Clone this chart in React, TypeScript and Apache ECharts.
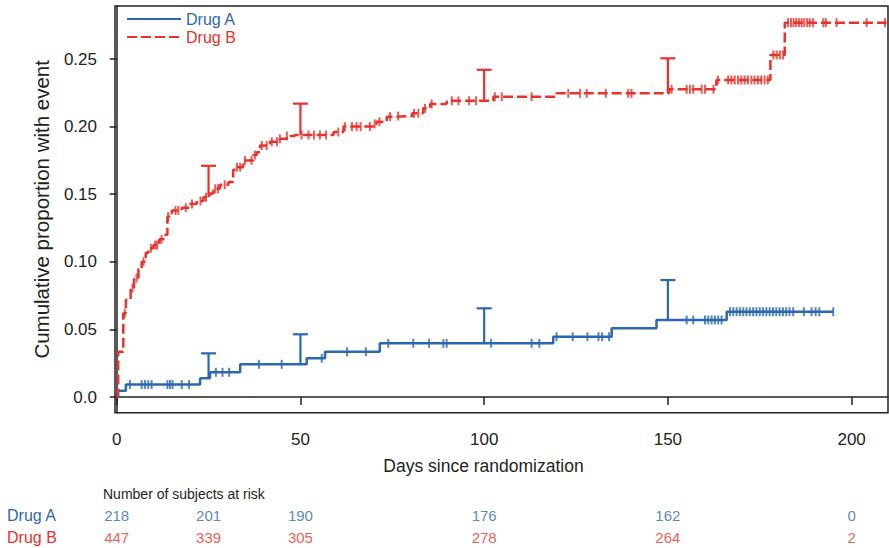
import React, { useEffect, useRef } from "react";
import * as echarts from "echarts";

// ---- Data ----
const BLUE = "#2c67b1";
const RED = "#e8322b";

// Kaplan-Meier cumulative incidence, Drug A (step starts: day, value)
const drugATimes = [0, 0.3, 2.5, 22.7, 25.4, 33.6, 51.7, 56.7, 71.6, 118.8, 134.7, 146.9, 166.0, 195.0];
const drugAValues = [0, 0.0046, 0.0092, 0.0138, 0.0183, 0.0242, 0.0286, 0.0335, 0.0397, 0.0446, 0.0508, 0.057, 0.0631, 0.0631];

// Drug B
const drugBTimes = [0, 0.4, 1.8, 2.5, 3.8, 4.7, 5.9, 6.8, 7.9, 8.6, 10.0, 11.6, 12.7, 13.8, 14.3, 15.0, 17.7, 19.9, 21.8, 23.6, 25.3, 26.3, 28.1, 30.4, 31.7, 32.6, 34.4, 37.2, 38.1, 39.0, 41.7, 44.4, 46.3, 48.5, 59.0, 61.7, 69.8, 70.7, 73.5, 76.2, 80.4, 83.4, 85.3, 89.8, 90.7, 102.5, 119.7, 150.3, 163.2, 177.9, 181.8, 209.5];
const drugBValues = [0, 0.0335, 0.062, 0.072, 0.0806, 0.088, 0.0947, 0.1, 0.1067, 0.11, 0.1124, 0.1166, 0.12, 0.1334, 0.136, 0.138, 0.14, 0.1428, 0.145, 0.1477, 0.1506, 0.154, 0.157, 0.159, 0.168, 0.17, 0.175, 0.179, 0.181, 0.186, 0.1888, 0.191, 0.193, 0.1938, 0.196, 0.2, 0.202, 0.2036, 0.2073, 0.2078, 0.2098, 0.2135, 0.2167, 0.2184, 0.2191, 0.2221, 0.2246, 0.2276, 0.2345, 0.253, 0.2769, 0.2769];

// Censoring times
const drugACensored = [3.6, 6.8, 7.7, 8.6, 9.5, 13.8, 14.5, 15.2, 17.7, 19.7, 27.0, 28.8, 30.6, 38.7, 44.9, 55.8, 62.7, 67.8, 73.9, 80.7, 85.0, 88.9, 89.8, 101.9, 112.9, 115.0, 119.7, 124.1, 128.1, 131.1, 132.1, 134.0, 155.1, 156.9, 160.1, 161.0, 161.9, 162.8, 163.7, 164.6, 166.9, 167.8, 168.7, 169.6, 170.5, 171.4, 172.3, 173.2, 174.1, 175.0, 175.9, 176.8, 177.7, 178.6, 179.5, 180.4, 181.3, 182.2, 183.1, 184.1, 187.0, 189.1, 190.2, 191.2, 195.0];
const drugBCensored = [2.2, 4.3, 5.4, 7.3, 9.3, 10.5, 11.0, 12.2, 14.0, 16.0, 16.8, 18.8, 20.5, 22.8, 24.3, 26.8, 27.6, 29.4, 32.7, 33.6, 34.9, 36.7, 37.6, 39.5, 40.8, 42.2, 43.6, 44.4, 46.3, 50.3, 52.2, 53.7, 55.3, 57.0, 60.3, 62.1, 64.0, 65.3, 66.4, 68.9, 70.2, 71.5, 74.4, 76.6, 80.9, 82.1, 83.9, 85.7, 91.2, 93.0, 95.9, 97.8, 102.9, 104.8, 112.9, 122.9, 126.1, 127.9, 133.1, 139.2, 140.1, 151.0, 155.1, 156.0, 156.9, 159.2, 160.1, 162.4, 163.6, 166.4, 167.3, 168.2, 169.1, 170.0, 170.9, 171.8, 172.7, 173.6, 174.5, 175.4, 176.3, 177.2, 178.7, 179.6, 180.5, 181.3, 182.7, 183.5, 184.2, 184.9, 185.7, 186.4, 187.1, 187.9, 188.6, 189.5, 192.3, 193.0, 195.9, 204.1, 209.1];

// Upper confidence limits at selected days
const ciDays = [25, 50, 100, 150];
const drugAUpper = [0.0323, 0.0464, 0.0656, 0.0865];
const drugBUpper = [0.171, 0.217, 0.242, 0.2505];

// Number at risk
const riskDays = [0, 25, 50, 100, 150, 200];
const riskDrugA = [218, 201, 190, 176, 162, 0];
const riskDrugB = [447, 339, 305, 278, 264, 2];

const xTicks = [0, 50, 100, 150, 200];
const yTicks = [0, 0.05, 0.1, 0.15, 0.2, 0.25];
const yTickLabels = ["0.0", "0.05", "0.10", "0.15", "0.20", "0.25"];

const X_MIN = -0.46;
const X_MAX = 209.9;
const Y_MIN = -0.0116;
const Y_MAX = 0.2892;

const FONT = "'Liberation Sans', Arial, Helvetica, sans-serif";

function valueAt(times: number[], values: number[], t: number): number {
  let v = values[0];
  for (let i = 0; i < times.length; i++) {
    if (times[i] <= t) v = values[i];
    else break;
  }
  return v;
}

function ciRender(color: string) {
  return (params: any, api: any) => {
    const x = api.value(0);
    const lo = api.coord([x, api.value(1)]);
    const hi = api.coord([x, api.value(2)]);
    const half = 7.5;
    return {
      type: "group",
      children: [
        { type: "line", shape: { x1: lo[0], y1: lo[1], x2: hi[0], y2: hi[1] }, style: { stroke: color, lineWidth: 2.2 } },
        { type: "line", shape: { x1: hi[0] - half, y1: hi[1], x2: hi[0] + half, y2: hi[1] }, style: { stroke: color, lineWidth: 2.2 } },
      ],
    };
  };
}

export default function App() {
  const ref = useRef<HTMLDivElement>(null);

  useEffect(() => {
    if (!ref.current) return;
    const chart = echarts.init(ref.current, undefined, { renderer: "svg" });

    const lineA = drugATimes.map((t, i) => [t, drugAValues[i]]);
    const lineB = drugBTimes.map((t, i) => [t, drugBValues[i]]);
    const censA = drugACensored.map((t) => [t, valueAt(drugATimes, drugAValues, t)]);
    const censB = drugBCensored.map((t) => [t, valueAt(drugBTimes, drugBValues, t)]);
    const ciA = ciDays.map((d, i) => [d, valueAt(drugATimes, drugAValues, d), drugAUpper[i]]);
    const ciB = ciDays.map((d, i) => [d, valueAt(drugBTimes, drugBValues, d), drugBUpper[i]]);
    const riskA = riskDays.map((d, i) => [d, "Drug A", riskDrugA[i]]);
    const riskB = riskDays.map((d, i) => [d, "Drug B", riskDrugB[i]]);

    const option: any = {
      animation: false,
      backgroundColor: "#ffffff",
      textStyle: { fontFamily: FONT },
      grid: [
        { left: 115, top: 6, width: 773, height: 406.7, show: true, borderColor: "#222", borderWidth: 1.5, backgroundColor: "transparent" },
        { left: 115, top: 504.5, width: 773, height: 46, show: false },
      ],
      legend: {
        orient: "vertical",
        left: 126,
        top: 10,
        padding: 0,
        itemWidth: 54,
        itemHeight: 14,
        itemGap: 0,
        itemStyle: { opacity: 0 },
        data: [
          { name: "Drug A", textStyle: { color: BLUE } },
          { name: "Drug B", textStyle: { color: RED } },
        ],
        textStyle: { fontSize: 16, lineHeight: 18, fontFamily: FONT },
      },
      xAxis: [
        {
          type: "value",
          gridIndex: 0,
          min: X_MIN,
          max: X_MAX,
          name: "Days since randomization",
          nameLocation: "middle",
          nameGap: 44,
          nameTextStyle: { fontSize: 17.5, color: "#222", padding: [0, 36, 0, 0], fontFamily: FONT },
          axisLine: { show: true, lineStyle: { color: "#222", width: 1.5 } },
          axisTick: { show: true, length: 8, customValues: xTicks, lineStyle: { color: "#222", width: 1.5 } },
          axisLabel: { customValues: xTicks, fontSize: 17, color: "#222", margin: 18, fontFamily: FONT },
          splitLine: { show: false },
        },
        { type: "value", gridIndex: 1, min: X_MIN, max: X_MAX, show: false },
      ],
      yAxis: [
        {
          type: "value",
          gridIndex: 0,
          min: Y_MIN,
          max: Y_MAX,
          name: "Cumulative proportion with event",
          nameLocation: "middle",
          nameGap: 63,
          nameTextStyle: { fontSize: 20.5, color: "#222", fontFamily: FONT },
          axisLine: { show: true, lineStyle: { color: "#222", width: 1.5 } },
          axisTick: { show: true, length: 7, customValues: yTicks, lineStyle: { color: "#222", width: 1.5 } },
          axisLabel: {
            customValues: yTicks,
            fontSize: 17,
            color: "#222",
            margin: 18,
            fontFamily: FONT,
            formatter: (v: number) => {
              const idx = yTicks.findIndex((t) => Math.abs(t - v) < 1e-9);
              return idx >= 0 ? yTickLabels[idx] : "";
            },
          },
          splitLine: { show: false },
        },
        {
          type: "category",
          gridIndex: 1,
          data: ["Drug A", "Drug B"],
          inverse: true,
          axisLine: { show: false },
          axisTick: { show: false },
          splitLine: { show: false },
          axisLabel: {
            align: "left",
            margin: 108,
            fontSize: 16,
            fontFamily: FONT,
            color: (v: string) => (v === "Drug A" ? BLUE : RED),
          },
        },
      ],
      graphic: [
        {
          type: "text",
          left: 103,
          top: 487,
          style: { text: "Number of subjects at risk", fontSize: 14, fill: "#222", fontFamily: FONT },
        },
      ],
      series: [
        {
          name: "Drug A",
          type: "line",
          step: "end",
          data: lineA,
          symbol: "none",
          color: BLUE,
          lineStyle: { color: BLUE, width: 2.5 },
          z: 3,
        },
        {
          name: "Drug B",
          type: "line",
          step: "end",
          data: lineB,
          symbol: "none",
          color: RED,
          lineStyle: { color: RED, width: 2.5, type: [10, 4] },
          z: 3,
        },
        {
          name: "Drug A censored",
          type: "scatter",
          data: censA,
          symbol: "rect",
          symbolSize: [2, 9],
          itemStyle: { color: BLUE },
          silent: true,
          z: 4,
        },
        {
          name: "Drug B censored",
          type: "scatter",
          data: censB,
          symbol: "rect",
          symbolSize: [2, 9],
          itemStyle: { color: RED },
          silent: true,
          z: 4,
        },
        {
          name: "Drug A CI",
          type: "custom",
          data: ciA,
          renderItem: ciRender(BLUE),
          silent: true,
          z: 4,
        },
        {
          name: "Drug B CI",
          type: "custom",
          data: ciB,
          renderItem: ciRender(RED),
          silent: true,
          z: 4,
        },
        {
          name: "At risk A",
          type: "scatter",
          xAxisIndex: 1,
          yAxisIndex: 1,
          data: riskA,
          symbolSize: 0,
          silent: true,
          label: { show: true, position: "inside", formatter: (p: any) => String(p.value[2]), color: BLUE, fontSize: 15, fontFamily: FONT },
        },
        {
          name: "At risk B",
          type: "scatter",
          xAxisIndex: 1,
          yAxisIndex: 1,
          data: riskB,
          symbolSize: 0,
          silent: true,
          label: { show: true, position: "inside", formatter: (p: any) => String(p.value[2]), color: RED, fontSize: 15, fontFamily: FONT },
        },
      ],
    };

    chart.setOption(option);
    return () => chart.dispose();
  }, []);

  return <div ref={ref} style={{ position: "fixed", left: 0, top: 0, width: 889, height: 548 }} />;
}
